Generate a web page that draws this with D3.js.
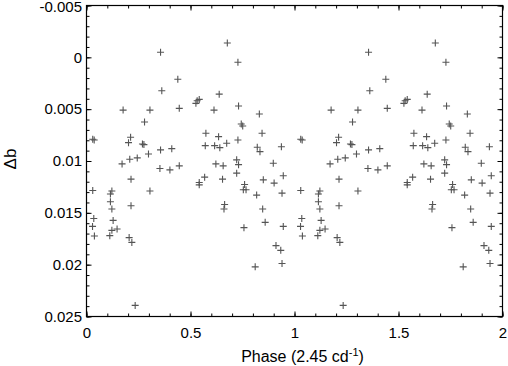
<!DOCTYPE html>
<html>
<head>
<meta charset="utf-8">
<script src="https://cdn.jsdelivr.net/npm/d3@7"></script>
<style>
  body { margin: 0; background: #fff; }
  text { font-family: "Liberation Sans", Arial, sans-serif; }
</style>
</head>
<body>
<div id="chart"></div>
<script>
let phase = [
  0.030, 0.037, 0.030, 0.035, 0.029, 0.038, 0.122, 0.115, 0.115, 0.122,
  0.128, 0.122, 0.147, 0.112, 0.176, 0.171, 0.212, 0.202, 0.208, 0.244,
  0.214, 0.214, 0.205, 0.218, 0.234, 0.269, 0.276, 0.279, 0.298, 0.305,
  0.305, 0.356, 0.353, 0.356, 0.362, 0.410, 0.401, 0.439, 0.446, 0.446,
  0.526, 0.532, 0.542, 0.542, 0.542, 0.568, 0.574, 0.571, 0.613, 0.616,
  0.635, 0.641, 0.622, 0.657, 0.654, 0.638, 0.664, 0.661, 0.677, 0.674,
  0.728, 0.731, 0.728, 0.722, 0.731, 0.722, 0.744, 0.751, 0.760, 0.754,
  0.767, 0.757, 0.831, 0.844, 0.821, 0.834, 0.818, 0.850, 0.847, 0.859,
  0.811, 0.898, 0.902, 0.911, 0.937, 0.946, 0.940, 0.946, 0.934, 0.940
];
// delta b (mag)
let deltaB = [
  0.00790, 0.00797, 0.01285, 0.01554, 0.01631, 0.01723, 0.01290, 0.01319, 0.01393, 0.01463,
  0.01573, 0.01669, 0.01656, 0.01720, 0.00509, 0.01028, 0.00771, 0.00823, 0.00983, 0.00970,
  0.01175, 0.01432, 0.01739, 0.01785, 0.02393, 0.00836, 0.00842, 0.00624, 0.00932, 0.00509,
  0.01290, 0.00893, 0.01073, -0.00049, 0.00323, 0.00881, 0.01086, 0.00211, 0.00492, 0.01047,
  0.00444, 0.00419, 0.00406, 0.01208, 0.01230, 0.01156, 0.00733, 0.00852, 0.00509, 0.00852,
  0.00765, 0.00871, 0.01028, 0.01047, 0.01175, 0.00355, 0.01419, 0.01463, -0.00138, 0.00829,
  0.00047, 0.00470, 0.00797, 0.00989, 0.01035, 0.01117, 0.00643, 0.00663, 0.01227, 0.01278,
  0.01278, 0.01643, 0.00547, 0.00733, 0.00867, 0.00910, 0.01329, 0.01182, 0.01463, 0.01592,
  0.02021, 0.01021, 0.01213, 0.01816, 0.00862, 0.01143, 0.01310, 0.01631, 0.01862, 0.01989
];
let xTicks = [0, 0.5, 1, 1.5, 2];
let yTicks = [-0.005, 0, 0.005, 0.01, 0.015, 0.02, 0.025];

let width = 508;
let height = 366;
let margin = { top: 5.5, right: 5.5, bottom: 49.5, left: 86.5 };

// two cycles: each point repeated one phase later
let points = [];
[0, 1].forEach(cycle => {
  phase.forEach((p, i) => points.push({ x: p + cycle, y: deltaB[i] }));
});

let x = d3.scaleLinear().domain([0, 2]).range([margin.left, width - margin.right]);
let y = d3.scaleLinear().domain([-0.005, 0.025]).range([margin.top, height - margin.bottom]);

let svg = d3.select('#chart')
  .append('svg')
  .attr('width', width)
  .attr('height', height);

let fmtY = d => d === 0 ? '0' : String(+d.toFixed(3));
let fmtX = d => String(d);

let xMinor = d3.range(0, 2.0001, 0.1);
let yMinor = d3.range(-0.005, 0.02501, 0.001);

// bottom axis with labels
svg.append('g')
  .attr('transform', `translate(0,${height - margin.bottom})`)
  .call(d3.axisBottom(x).tickValues(xTicks).tickFormat(fmtX).tickSize(-5).tickPadding(10.5).tickSizeOuter(0))
  .call(g => g.selectAll('text').style('font-size', '15px').attr('fill', '#000'));
svg.append('g')
  .attr('transform', `translate(0,${height - margin.bottom})`)
  .call(d3.axisBottom(x).tickValues(xMinor).tickFormat('').tickSize(-3).tickSizeOuter(0));

// top axis, ticks only
svg.append('g')
  .attr('transform', `translate(0,${margin.top})`)
  .call(d3.axisTop(x).tickValues(xTicks).tickFormat('').tickSize(-5).tickSizeOuter(0));
svg.append('g')
  .attr('transform', `translate(0,${margin.top})`)
  .call(d3.axisTop(x).tickValues(xMinor).tickFormat('').tickSize(-3).tickSizeOuter(0));

// left axis with labels
svg.append('g')
  .attr('transform', `translate(${margin.left},0)`)
  .call(d3.axisLeft(y).tickValues(yTicks).tickFormat(fmtY).tickSize(-5).tickPadding(4.5).tickSizeOuter(0))
  .call(g => g.selectAll('text').style('font-size', '15px').attr('fill', '#000'))
  .call(g => g.selectAll('.tick text').filter(d => d === -0.005).attr('dy', '0.42em'));
svg.append('g')
  .attr('transform', `translate(${margin.left},0)`)
  .call(d3.axisLeft(y).tickValues(yMinor).tickFormat('').tickSize(-3).tickSizeOuter(0));

// right axis, ticks only
svg.append('g')
  .attr('transform', `translate(${width - margin.right},0)`)
  .call(d3.axisRight(y).tickValues(yTicks).tickFormat('').tickSize(-5).tickSizeOuter(0));
svg.append('g')
  .attr('transform', `translate(${width - margin.right},0)`)
  .call(d3.axisRight(y).tickValues(yMinor).tickFormat('').tickSize(-3).tickSizeOuter(0));

svg.selectAll('.domain').remove();

// frame
svg.append('rect')
  .attr('x', margin.left)
  .attr('y', margin.top)
  .attr('width', width - margin.left - margin.right)
  .attr('height', height - margin.top - margin.bottom)
  .attr('fill', 'none')
  .attr('stroke', '#000')
  .attr('stroke-width', 1.2);

// plus markers
let s = 3.5;
svg.append('g')
  .selectAll('path')
  .data(points)
  .enter()
  .append('path')
  .attr('d', d => {
    let cx = x(d.x), cy = y(d.y);
    return `M${cx - s},${cy}H${cx + s}M${cx},${cy - s}V${cy + s}`;
  })
  .attr('stroke', '#555')
  .attr('stroke-width', 1.1)
  .attr('fill', 'none');

// axis titles
let xt = svg.append('text')
  .attr('x', (margin.left + width - margin.right) / 2 + 8)
  .attr('y', 362)
  .attr('text-anchor', 'middle')
  .style('font-size', '16px')
  .text('Phase (2.45 cd');
xt.append('tspan').attr('dy', -6).style('font-size', '11px').text('-1');
xt.append('tspan').attr('dy', 6).text(')');

svg.append('text')
  .attr('transform', 'translate(15.5,159) rotate(-90)')
  .attr('text-anchor', 'middle')
  .style('font-size', '17px')
  .text('Δb');
</script>
</body>
</html>
